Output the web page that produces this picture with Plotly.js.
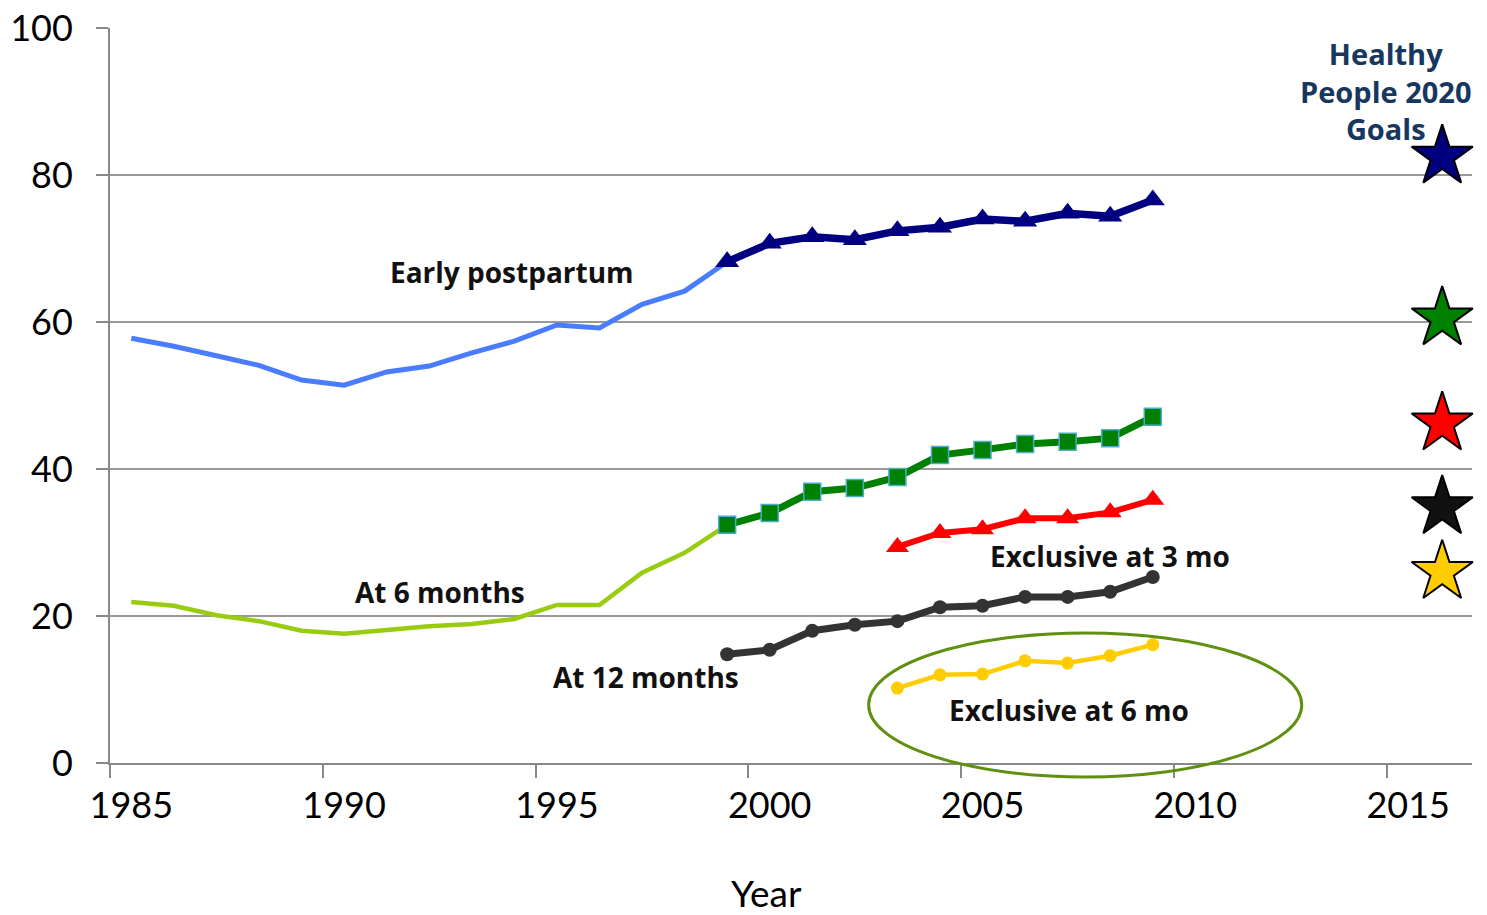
<!DOCTYPE html>
<html>
<head>
<meta charset="utf-8">
<script src="https://cdn.plot.ly/plotly-3.0.1.min.js"></script>
<style>
  html, body { margin: 0; padding: 0; background: #ffffff; }
  #chart { width: 1487px; height: 915px; }
</style>
</head>
<body>
<div id="chart"></div>
<script>
// Breastfeeding rates (%) by year, 1985-2009
const years = [1985, 1986, 1987, 1988, 1989, 1990, 1991, 1992, 1993, 1994, 1995, 1996, 1997,
               1998, 1999, 2000, 2001, 2002, 2003, 2004, 2005, 2006, 2007, 2008, 2009];

const earlyPostpartum = [57.8, 56.7, 55.4, 54.1, 52.1, 51.4, 53.2, 54.0, 55.8, 57.4, 59.6, 59.2, 62.4,
                         64.2, 68.2, 70.7, 71.6, 71.2, 72.4, 72.9, 74.0, 73.7, 74.8, 74.4, 76.6];

const atSixMonths = [21.9, 21.4, 20.1, 19.3, 18.0, 17.6, 18.1, 18.6, 18.9, 19.6, 21.5, 21.5, 25.9,
                     28.6, 32.4, 34.0, 36.9, 37.4, 38.9, 41.9, 42.6, 43.4, 43.7, 44.2, 47.1];

// Later survey years only
const surveyYears12 = [1999, 2000, 2001, 2002, 2003, 2004, 2005, 2006, 2007, 2008, 2009];
const atTwelveMonths = [14.8, 15.4, 18.0, 18.8, 19.3, 21.2, 21.4, 22.6, 22.6, 23.3, 25.3];

const exclusiveYears = [2003, 2004, 2005, 2006, 2007, 2008, 2009];
const exclusiveThreeMo = [29.4, 31.3, 31.8, 33.3, 33.3, 34.1, 35.8];
const exclusiveSixMo = [10.2, 12.0, 12.1, 13.9, 13.6, 14.6, 16.1];

// Healthy People 2020 targets
const goalYear = 2015.8;
const goalValues = [82.5, 60.5, 46.2, 34.8, 26.0];
const goalColors = ['#000080', '#008000', '#ff0000', '#111111', '#ffcc00'];

// Axis tick labels and category boundaries
const tickYears = [1985, 1990, 1995, 2000, 2005, 2010, 2015];
const tickBoundaries = [1984.5, 1989.5, 1994.5, 1999.5, 2004.5, 2009.5, 2014.5];
const yTicks = [0, 20, 40, 60, 80, 100];

// Year where the survey series switch style
const splitYear = 1999;
const splitIdx = years.indexOf(splitYear);

const traces = [
  {
    x: years.slice(0, splitIdx + 1), y: earlyPostpartum.slice(0, splitIdx + 1),
    mode: 'lines', line: { color: '#4a7cff', width: 5 }
  },
  {
    x: years.slice(0, splitIdx + 1), y: atSixMonths.slice(0, splitIdx + 1),
    mode: 'lines', line: { color: '#99cc11', width: 4.5 }
  },
  {
    x: years.slice(splitIdx), y: earlyPostpartum.slice(splitIdx),
    mode: 'lines+markers', line: { color: '#000080', width: 7.5 },
    marker: { symbol: 'triangle-up', size: 21, color: '#000080' }
  },
  {
    x: years.slice(splitIdx), y: atSixMonths.slice(splitIdx),
    mode: 'lines+markers', line: { color: '#008000', width: 7 },
    marker: { symbol: 'square', size: 17, color: '#008000', line: { color: '#4bacc6', width: 1.5 } }
  },
  {
    x: exclusiveYears, y: exclusiveThreeMo,
    mode: 'lines+markers', line: { color: '#ff0000', width: 6 },
    marker: { symbol: 'triangle-up', size: 20, color: '#ff0000' }
  },
  {
    x: surveyYears12, y: atTwelveMonths,
    mode: 'lines+markers', line: { color: '#333333', width: 7 },
    marker: { symbol: 'circle', size: 14, color: '#333333' }
  },
  {
    x: exclusiveYears, y: exclusiveSixMo,
    mode: 'lines+markers', line: { color: '#ffcc00', width: 4.5 },
    marker: { symbol: 'circle', size: 13, color: '#ffcc00' }
  },
  {
    x: goalValues.map(() => goalYear), y: goalValues,
    mode: 'markers',
    marker: { symbol: 'star', size: 46, color: goalColors, line: { color: '#000000', width: 2 } },
    cliponaxis: false
  }
];

const labelFont = { family: 'Open Sans, sans-serif', size: 28, color: '#111111', weight: 700 };
const tickFont = { family: 'Lato, sans-serif', size: 36, color: '#000000' };

const layout = {
  width: 1487, height: 915,
  margin: { l: 110, r: 15, t: 28, b: 152 },
  paper_bgcolor: '#ffffff', plot_bgcolor: '#ffffff',
  showlegend: false,
  xaxis: {
    range: [1984.5, 2016.5],
    tickmode: 'array', tickvals: tickYears, ticktext: tickYears.map(String),
    ticks: '', showgrid: false, zeroline: false,
    showline: true, linecolor: '#888888', linewidth: 2,
    ticklabelstandoff: 10,
    tickfont: tickFont,
    minor: { tickmode: 'array', tickvals: tickBoundaries, ticks: 'outside', ticklen: 13,
             tickcolor: '#888888', tickwidth: 2, showgrid: false }
  },
  yaxis: {
    range: [0, 100],
    tickmode: 'array', tickvals: yTicks,
    ticks: 'outside', ticklen: 12, tickcolor: '#888888', tickwidth: 2,
    showgrid: true, gridcolor: '#999999', gridwidth: 1.5, zeroline: false,
    showline: true, linecolor: '#888888', linewidth: 2,
    ticklabelstandoff: 16,
    tickfont: tickFont
  },
  shapes: [
    {
      type: 'circle', xref: 'x domain', yref: 'y domain',
      x0: 0.557, x1: 0.875, y0: -0.019, y1: 0.177,
      line: { color: '#5f9010', width: 3 }
    }
  ],
  annotations: [
    { x: 1993.94, y: 66.8, text: 'Early postpartum', showarrow: false, font: labelFont },
    { x: 1992.25, y: 23.3, text: 'At 6 months', showarrow: false, font: labelFont },
    { x: 1997.1, y: 11.7, text: 'At 12 months', showarrow: false, font: labelFont },
    { x: 2008.0, y: 28.2, text: 'Exclusive at 3 mo', showarrow: false, font: labelFont },
    { x: 2007.03, y: 7.2, text: 'Exclusive at 6 mo', showarrow: false, font: labelFont },
    {
      x: 2014.48, y: 91.4, text: 'Healthy<br>People 2020<br>Goals', showarrow: false,
      align: 'center',
      font: { family: 'Open Sans, sans-serif', size: 29, color: '#17375e', weight: 700 }
    },
    // x-axis title, set slightly left of the plot centre
    {
      xref: 'paper', yref: 'paper', x: 0.482, y: -0.176, yanchor: 'middle',
      text: 'Year', showarrow: false,
      font: { family: 'Lato, sans-serif', size: 37, color: '#000000' }
    }
  ]
};

Plotly.newPlot('chart', traces, layout, { displayModeBar: false, staticPlot: true });
</script>
</body>
</html>
